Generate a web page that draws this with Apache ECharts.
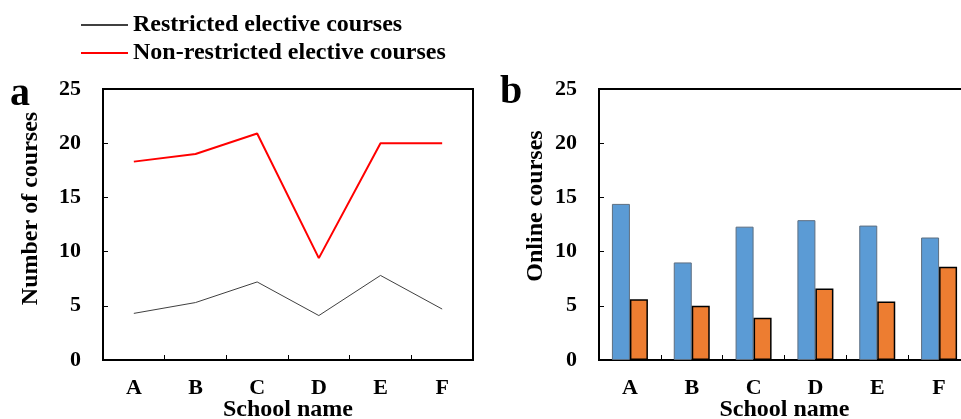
<!DOCTYPE html>
<html><head><meta charset="utf-8">
<script src="https://cdn.jsdelivr.net/npm/echarts@6/dist/echarts.min.js"></script>
<style>html,body{margin:0;padding:0;background:#fff}#c{width:961px;height:419px}</style>
</head><body><div id="c"></div>
<script>
var schools = ['A','B','C','D','E','F'];
var restricted = [4.3, 5.3, 7.2, 4.1, 7.8, 4.7];
var nonRestricted = [18.3, 19.0, 20.9, 9.4, 20.0, 20.0];
var onlineBlue = [14.4, 9.0, 12.3, 12.9, 12.4, 11.3];
var onlineOrange = [5.6, 5.0, 3.9, 6.6, 5.4, 8.6];
var yTicks = [0, 5, 10, 15, 20, 25];

var FONT = '"Liberation Serif", "Times New Roman", serif';
var tickTxt = {fontFamily: FONT, fontWeight: 'bold', fontSize: 22, color: '#000'};
var nameTxt = {fontFamily: FONT, fontWeight: 'bold', fontSize: 24, color: '#000'};

function xAx(gi){
  return {
    type: 'category', gridIndex: gi, data: schools,
    name: 'School name', nameLocation: 'middle', nameGap: 38, nameMoveOverlap: false,
    nameTextStyle: nameTxt,
    axisLine: {show: true, lineStyle: {color: '#000', width: 2}},
    axisTick: {show: true, inside: true, length: 5, lineStyle: {color: '#000', width: 1}},
    axisLabel: Object.assign({margin: 17}, tickTxt),
    splitLine: {show: false}
  };
}
function yAx(gi, name, gap, shift){
  return {
    type: 'value', gridIndex: gi, min: yTicks[0], max: yTicks[yTicks.length-1], interval: 5,
    name: name, nameLocation: 'middle', nameGap: gap,
    nameTextStyle: Object.assign({padding: [0, 0, 0, shift]}, nameTxt),
    axisLine: {show: true, lineStyle: {color: '#000', width: 2}},
    axisTick: {show: true, inside: true, length: 5, lineStyle: {color: '#000', width: 1}},
    axisLabel: Object.assign({margin: 22}, tickTxt),
    splitLine: {show: false}
  };
}

var chart = echarts.init(document.getElementById('c'), null, {renderer: 'canvas'});
chart.setOption({
  animation: false,
  backgroundColor: '#fff',
  legend: {
    orient: 'vertical', left: 75, top: 8, itemGap: 4,
    itemWidth: 47, itemHeight: 14,
    itemStyle: {opacity: 0},
    textStyle: nameTxt,
    data: ['Restricted elective courses', 'Non-restricted elective courses']
  },
  graphic: [
    {type: 'text', left: 10, top: 75, style: {text: 'a', font: 'bold 40px ' + FONT, fill: '#000'}},
    {type: 'text', left: 500, top: 73, style: {text: 'b', font: 'bold 40px ' + FONT, fill: '#000'}}
  ],
  grid: [
    {left: 103, top: 89, width: 370, height: 271, outerBoundsMode: 'none', containLabel: false, show: true, borderColor: '#000', borderWidth: 2, backgroundColor: 'transparent'},
    {left: 599, top: 89, width: 371, height: 271, outerBoundsMode: 'none', containLabel: false, show: true, borderColor: '#000', borderWidth: 2, backgroundColor: 'transparent'}
  ],
  xAxis: [xAx(0), xAx(1)],
  yAxis: [yAx(0, 'Number of courses', 60, 32), yAx(1, 'Online courses', 51, 37)],
  series: [
    {name: 'Restricted elective courses', type: 'line', xAxisIndex: 0, yAxisIndex: 0,
     data: restricted, symbol: 'none', lineStyle: {color: '#404040', width: 1}, itemStyle: {color: '#404040'}},
    {name: 'Non-restricted elective courses', type: 'line', xAxisIndex: 0, yAxisIndex: 0,
     data: nonRestricted, symbol: 'none', lineStyle: {color: '#ff0000', width: 2}, itemStyle: {color: '#ff0000'}},
    {name: 'Online A', type: 'bar', xAxisIndex: 1, yAxisIndex: 1, data: onlineBlue,
     barWidth: 18, barGap: '0%', itemStyle: {color: '#5B9BD5', borderColor: '#5d6e80', borderWidth: 1}},
    {name: 'Online B', type: 'bar', xAxisIndex: 1, yAxisIndex: 1, data: onlineOrange,
     barWidth: 18, barGap: '0%', itemStyle: {color: '#ED7D31', borderColor: '#000', borderWidth: 1.5}}
  ]
});
</script></body></html>
